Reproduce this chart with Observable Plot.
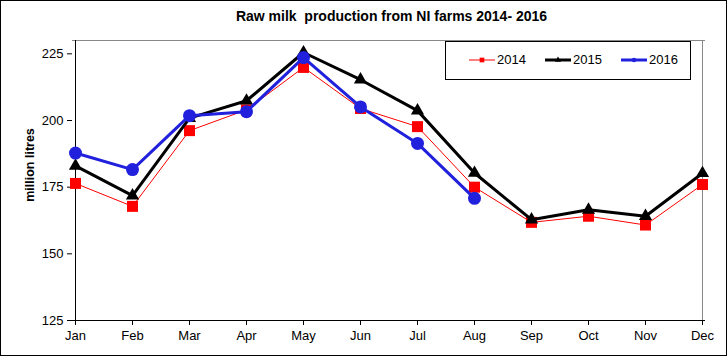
<!DOCTYPE html>
<html><head><meta charset="utf-8">
<script src="https://cdn.jsdelivr.net/npm/d3@7"></script>
<script src="https://cdn.jsdelivr.net/npm/@observablehq/plot@0.6"></script>
<style>
body{margin:0;background:#fff;font-family:"Liberation Sans",Arial,sans-serif;}
#wrap{position:relative;width:727px;height:356px;}
#border{position:absolute;left:0;top:0;width:725px;height:354px;border:1px solid #000;pointer-events:none;}
#title{position:absolute;left:75px;width:633px;top:8px;text-align:center;font-weight:bold;font-size:14px;}
#ylab{position:absolute;left:30px;top:165px;transform:translate(-50%,-50%) rotate(-90deg);font-weight:bold;font-size:12.5px;white-space:nowrap;}
#legend{position:absolute;left:445px;top:41px;width:244px;height:37px;border:1px solid #000;background:#fff;font-size:13px;}
.li{position:absolute;top:10px;display:flex;align-items:center;}
.li svg{margin-right:1px;}
</style></head>
<body>
<div id="wrap">
<div id="chart"></div>
<div id="title">Raw milk&nbsp; production from NI farms 2014- 2016</div>
<div id="ylab">million litres</div>
<div id="legend"></div>
<div id="border"></div>
</div>
<script>
const months = ["Jan","Feb","Mar","Apr","May","Jun","Jul","Aug","Sep","Oct","Nov","Dec"];
const v2014 = [176.4,167.8,196.2,204.0,219.9,204.5,197.7,175.0,161.8,164.1,160.8,176.0];
const v2015 = [183.0,171.8,200.9,207.4,225.5,215.3,203.7,180.3,162.8,166.5,164.1,180.2];
const v2016 = [187.8,181.6,201.8,203.3,223.6,205.1,191.4,170.8];
const yTicks = [125,150,175,200,225];
const seriesNames = ["2014","2015","2016"];
const colors = ["#ff0000","#000000","#2020dd"];

const toRows = (vals, s) => vals.map((v,i)=>({month:months[i], value:v, series:s}));
const d14 = toRows(v2014,"2014"), d15 = toRows(v2015,"2015"), d16 = toRows(v2016,"2016");

const chart = Plot.plot({
  width:727, height:356,
  marginLeft:72, marginRight:22, marginTop:40, marginBottom:36,
  style:{fontFamily:"Liberation Sans, Arial, sans-serif", fontSize:"13px", background:"transparent"},
  x:{type:"point", domain:months, padding:0},
  y:{domain:[125,230]},
  marks:[
    Plot.ruleY([230],{stroke:"#888",strokeWidth:1}),
    Plot.ruleX(["Dec"],{stroke:"#888",strokeWidth:1}),
    Plot.ruleX(["Jan"],{stroke:"#000",strokeWidth:1}),
    Plot.ruleY([125],{stroke:"#000",strokeWidth:1}),
    Plot.axisY({ticks:yTicks, tickSize:5, tickPadding:4, fontSize:13, label:null, stroke:"#000"}),
    Plot.axisX({tickSize:5, tickPadding:5, fontSize:13, label:null, stroke:"#000"}),
    Plot.line(d14,{x:"month",y:"value",stroke:colors[0],strokeWidth:1}),
    Plot.dot(d14,{x:"month",y:"value",symbol:"square",r:6.2,fill:colors[0],stroke:"none"}),
    Plot.line(d15,{x:"month",y:"value",stroke:colors[1],strokeWidth:3}),
    Plot.dot(d15,{x:"month",y:"value",symbol:"triangle",r:4.9,fill:colors[1],stroke:"none"}),
    Plot.line(d16,{x:"month",y:"value",stroke:colors[2],strokeWidth:3}),
    Plot.dot(d16,{x:"month",y:"value",symbol:"circle",r:6.5,fill:colors[2],stroke:"none"})
  ]
});
document.getElementById("chart").appendChild(chart);

// legend
const leg = document.getElementById("legend");
const lx = [22, 98, 174];
const widths = [1,3,3];
const syms = [d3.symbolSquare, d3.symbolTriangle, d3.symbolCircle];
seriesNames.forEach((s,i)=>{
  const div = document.createElement("div");
  div.className="li"; div.style.left = lx[i]+"px";
  const sym = d3.symbol().type(syms[i]).size(i===0?22:16)();
  div.innerHTML = `<svg width="28" height="14"><line x1="1" x2="27" y1="7" y2="7" stroke="${colors[i]}" stroke-width="${widths[i]}"/><path transform="translate(14,7)" d="${sym}" fill="${colors[i]}"/></svg><span>${s}</span>`;
  leg.appendChild(div);
});
</script>
</body></html>
